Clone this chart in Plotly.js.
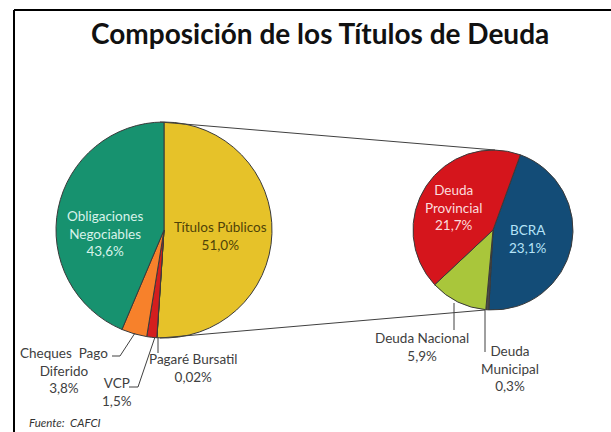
<!DOCTYPE html>
<html>
<head>
<meta charset="utf-8">
<script src="https://cdn.plot.ly/plotly-3.0.1.min.js"></script>
<style>html,body{margin:0;padding:0;background:#fff;}#chart{width:611px;height:432px;}</style>
</head>
<body>
<div id="chart"></div>
<script>
// ---- Data ----
const mainLabels = ["Títulos Públicos", "Pagaré Bursatil", "VCP", "Cheques Pago Diferido", "Obligaciones Negociables"];
const mainValues = [51.0, 0.02, 1.5, 3.8, 43.6];
const subLabels = ["BCRA", "Deuda Municipal", "Deuda Nacional", "Deuda Provincial"];
const subValues = [23.1, 0.3, 5.9, 21.7];

const mainColors = ["#E6C229", "#8B1A1A", "#D41E1E", "#F7812B", "#17926F"];
const subColors = ["#134C77", "#4A4A4A", "#A9C63B", "#D5151C"];

const W = 611, H = 432;
const px = x => x / W;
const py = y => 1 - y / H;
const fmt = (v, d) => v.toFixed(d).replace('.', ',') + '%';

// pie geometry (pixels)
const L = {cx: 164, cy: 230, r: 108};
const R = {cx: 493, cy: 230, r: 80};

const FONT = "Lato, 'Open Sans', sans-serif";

const traces = [
  {
    type: 'pie', labels: mainLabels, values: mainValues, sort: false,
    direction: 'clockwise', rotation: 0, textinfo: 'none', hoverinfo: 'skip',
    marker: {colors: mainColors, line: {color: '#3a3a3a', width: 1}},
    domain: {x: [px(L.cx - L.r), px(L.cx + L.r)], y: [py(L.cy + L.r), py(L.cy - L.r)]},
    showlegend: false
  },
  {
    type: 'pie', labels: subLabels, values: subValues, sort: false,
    direction: 'clockwise', rotation: 20, textinfo: 'none', hoverinfo: 'skip',
    marker: {colors: subColors, line: {color: '#3a3a3a', width: 1}},
    domain: {x: [px(R.cx - R.r), px(R.cx + R.r)], y: [py(R.cy + R.r), py(R.cy - R.r)]},
    showlegend: false
  }
];

function ann(x, y, text, color, extra) {
  return Object.assign({
    x: px(x), y: py(y), xref: 'paper', yref: 'paper', text: text, showarrow: false,
    xanchor: 'center', yanchor: 'middle', align: 'center',
    font: {family: FONT, size: 13.5, color: color}
  }, extra || {});
}
const m = i => mainValues[i], s = i => subValues[i];

const annotations = [
  ann(105, 234, "Obligaciones<br>Negociables<br>" + fmt(m(4), 1), "#D8F2EA"),
  ann(220, 236, "Títulos Públicos<br>" + fmt(m(0), 1), "#4F4208"),
  ann(64, 370, "Cheques  Pago<br>Diferido<br>" + fmt(m(3), 1), "#404040"),
  ann(117, 392, "VCP<br>" + fmt(m(2), 1), "#404040"),
  ann(193, 368, "Pagaré Bursatil<br>" + fmt(m(1), 2), "#404040"),
  ann(453, 208, "Deuda<br>Provincial<br>" + fmt(s(3), 1), "#FBDCDC"),
  ann(528, 239, "BCRA<br>" + fmt(s(0), 1), "#B5E3F7"),
  ann(422, 347, "Deuda Nacional<br>" + fmt(s(2), 1), "#404040"),
  ann(510, 368, "Deuda<br>Municipal<br>" + fmt(s(1), 1), "#404040"),
  ann(320, 33, "<b>Composición de los Títulos de Deuda</b>", "#111111", {font: {family: FONT, size: 28, color: "#111111"}}),
  ann(27, 422, "<i>Fuente:  CAFCI</i>", "#333333", {xanchor: 'left', font: {family: FONT, size: 11.5, color: "#333333"}})
];

function line(x0, y0, x1, y1, color, width) {
  return {type: 'line', xref: 'paper', yref: 'paper', x0: px(x0), y0: py(y0), x1: px(x1), y1: py(y1),
          line: {color: color || '#404040', width: width || 1}};
}
function path(pts, color) {
  let d = pts.map((p, i) => (i ? 'L' : 'M') + px(p[0]) + ',' + py(p[1])).join(' ');
  return {type: 'path', xref: 'paper', yref: 'paper', path: d, line: {color: color || '#404040', width: 1}};
}

const shapes = [
  // frame
  line(14, 10, 611, 10, '#000', 2),
  line(14, 10, 14, 432, '#000', 2),
  // connectors between pies
  line(L.cx - 4, L.cy - L.r, R.cx + 2, R.cy - R.r, '#404040', 1),
  line(L.cx - 4, L.cy + L.r, R.cx - 8, R.cy + R.r, '#404040', 1),
  // leader lines
  path([[112, 356], [120, 356], [135, 333]]),
  path([[129, 387], [138, 387], [155, 337]]),
  line(158, 337, 158, 353),
  line(454, 303, 454, 330),
  line(485, 310, 485, 352)
];

const layout = {
  width: W, height: H, margin: {l: 0, r: 0, t: 0, b: 0},
  paper_bgcolor: '#fff', plot_bgcolor: '#fff',
  annotations: annotations, shapes: shapes, showlegend: false
};

Plotly.newPlot('chart', traces, layout, {displayModeBar: false, staticPlot: true});
</script>
</body>
</html>
